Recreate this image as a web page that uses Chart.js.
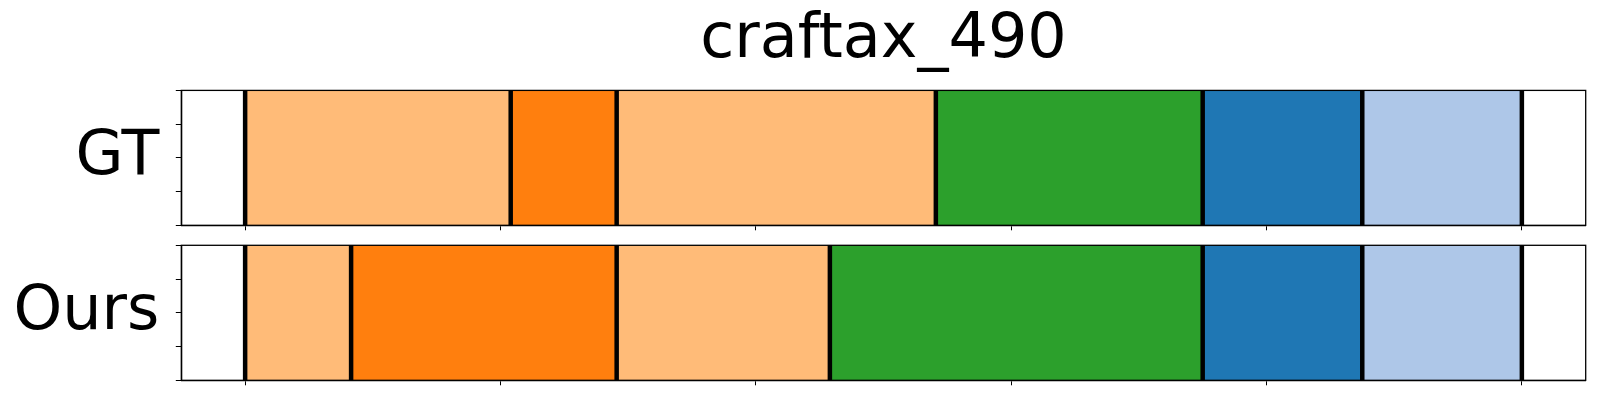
<!DOCTYPE html>
<html>
<head>
<meta charset="utf-8">
<script src="https://cdn.jsdelivr.net/npm/chart.js@4.4.0/dist/chart.umd.min.js"></script>
<style>
  html, body { margin: 0; padding: 0; background: #fff; }
  #wrap { width: 1600px; height: 400px; position: relative; }
  .panel { position: absolute; left: 0; width: 1600px; }
</style>
</head>
<body>
<div id="wrap">
  <div class="panel" style="top:0;height:232px"><canvas id="gtChart"></canvas></div>
  <div class="panel" style="top:232px;height:168px"><canvas id="oursChart"></canvas></div>
</div>
<script>
// chart data
var chartTitle = 'craftax_490';
var rowLabels = ['GT', 'Ours'];
var xTicks = [0, 100, 200, 300, 400, 500];
var yTicks = [0, 0.25, 0.5, 0.75, 1];

// segment boundaries (frames) and the class of each segment
var gtEdges = [0, 104, 145.5, 270.5, 375, 437.5, 500];
var gtClasses = ['c1', 'c0', 'c1', 'c2', 'c3', 'c4'];
var oursEdges = [0, 41.5, 145.5, 229, 375, 437.5, 500];
var oursClasses = ['c1', 'c0', 'c1', 'c2', 'c3', 'c4'];

var classColors = {
    c0: '#ff7f0e',
    c1: '#ffbb78',
    c2: '#2ca02c',
    c3: '#1f77b4',
    c4: '#aec7e8'
};

var FONT = '"DejaVu Sans", sans-serif';
var xMin = -25, xMax = 525;   // 5% margin like matplotlib

// frame round the plot area + black lines on segment edges
var framePlugin = {
    id: 'frame',
    afterDatasetsDraw: function (chart, args, opts) {
        var ctx = chart.ctx;
        var a = chart.chartArea;
        var xs = chart.scales.x;
        ctx.save();
        ctx.strokeStyle = '#000';
        ctx.lineWidth = 4.5;
        opts.edges.forEach(function (e) {
            var px = xs.getPixelForValue(e);
            ctx.beginPath();
            ctx.moveTo(px, a.top);
            ctx.lineTo(px, a.bottom);
            ctx.stroke();
        });
        ctx.lineWidth = 1.3;
        ctx.strokeRect(a.left, a.top, a.right - a.left, a.bottom - a.top);
        ctx.restore();
    }
};

function noPad(s) {
    s.paddingTop = 0; s.paddingBottom = 0; s.paddingLeft = 0; s.paddingRight = 0;
}

function makeChart(id, label, edges, classes, showTitle, padTop, padBottom) {
    var segs = [];
    for (var i = 0; i < classes.length; i++) {
        segs.push({ x: [edges[i], edges[i + 1]], y: label });
    }
    var ctx = document.getElementById(id).getContext('2d');
    return new Chart(ctx, {
        type: 'bar',
        data: {
            labels: [label],
            datasets: [{
                data: segs,
                backgroundColor: classes.map(function (c) { return classColors[c]; }),
                borderWidth: 0,
                barPercentage: 1,
                categoryPercentage: 1,
                grouped: false
            }]
        },
        options: {
            indexAxis: 'y',
            responsive: true,
            maintainAspectRatio: false,
            animation: false,
            layout: { padding: { left: 0, right: 14.3, top: padTop, bottom: padBottom } },
            plugins: {
                legend: { display: false },
                tooltip: { enabled: false },
                title: {
                    display: showTitle,
                    text: chartTitle,
                    fullSize: false,
                    color: '#000',
                    font: { family: FONT, size: 62, weight: 'normal' },
                    padding: { top: 4, bottom: 12 }
                },
                frame: { edges: edges }
            },
            scales: {
                x: {
                    type: 'linear',
                    min: xMin,
                    max: xMax,
                    offset: false,
                    afterBuildTicks: function (s) { s.ticks = xTicks.map(function (v) { return { value: v }; }); },
                    afterFit: function (s) { s.height = 6; noPad(s); },
                    ticks: { display: false },
                    grid: { offset: false, drawOnChartArea: false, drawTicks: true, tickLength: 5, color: '#000', lineWidth: 1 },
                    border: { display: true, color: '#000', width: 1.3 }
                },
                y: {
                    type: 'category',
                    position: 'left',
                    weight: 1,
                    afterFit: function (s) { s.width = 175.3; noPad(s); },
                    ticks: { color: '#000', font: { family: FONT, size: 62 }, padding: 16 },
                    grid: { display: false, drawTicks: false },
                    border: { display: false }
                },
                yt: {
                    type: 'linear',
                    position: 'left',
                    weight: 0,
                    min: 0,
                    max: 1,
                    offset: false,
                    afterBuildTicks: function (s) { s.ticks = yTicks.map(function (v) { return { value: v }; }); },
                    afterFit: function (s) { s.width = 6; noPad(s); },
                    ticks: { display: false },
                    grid: { offset: false, drawOnChartArea: false, drawTicks: true, tickLength: 5.5, color: '#000', lineWidth: 1 },
                    border: { display: true, color: '#000', width: 1.3 }
                }
            }
        },
        plugins: [framePlugin]
    });
}

makeChart('gtChart', rowLabels[0], gtEdges, gtClasses, true, 0, 0.7);
makeChart('oursChart', rowLabels[1], oursEdges, oursClasses, false, 13.3, 13.7);
</script>
</body>
</html>
